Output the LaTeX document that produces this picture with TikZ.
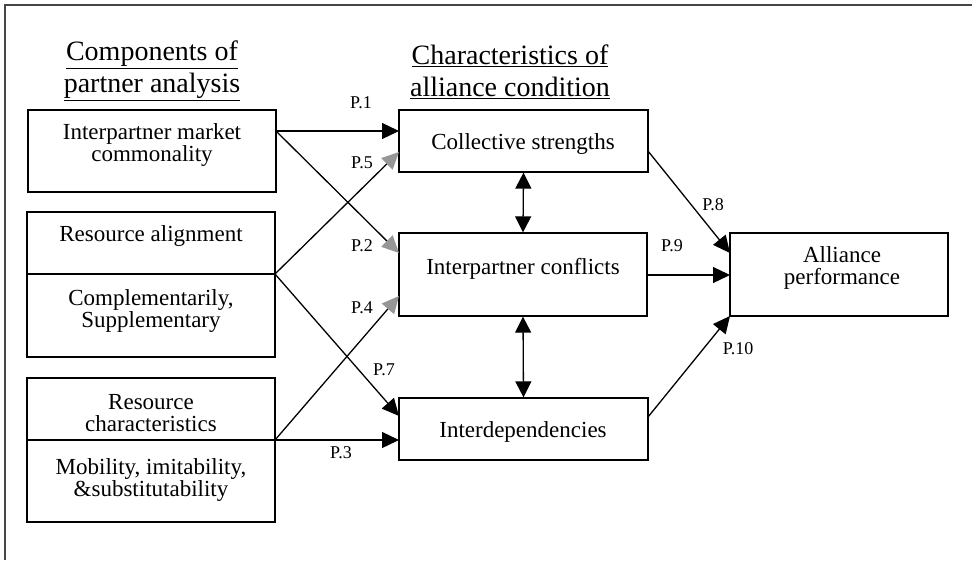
\documentclass[tikz,border=0pt]{standalone}
\usepackage{fontspec}
\setmainfont{Liberation Serif}
\usetikzlibrary{arrows.meta}
\definecolor{tipgray}{RGB}{150,150,150}
\definecolor{framegray}{RGB}{70,70,70}
\begin{document}
\begin{tikzpicture}[x=1pt,y=-1pt,
  box/.style={draw,line width=1.3pt,inner sep=0pt},
  txt/.style={align=center,inner sep=0pt,font=\fontsize{23}{21.5}\selectfont},
  head/.style={align=center,inner sep=0pt,font=\fontsize{28}{32}\selectfont},
  plab/.style={inner sep=0pt,font=\fontsize{18}{18}\selectfont},
  conn/.style={line width=1.3pt,-{Triangle[length=17pt,width=16pt]}},
  conng/.style={line width=1.3pt,-{Triangle[length=17pt,width=16pt,color=tipgray]}},
  biconn/.style={line width=1.3pt,{Triangle[length=16pt,width=16pt]}-{Triangle[length=16pt,width=16pt]}}]
\useasboundingbox (0,0) rectangle (972,560);
% frame (top and left only)
\draw[line width=2pt,framegray] (972,5) -- (5,5) -- (5,560);

% headings
\node[head] (h1) at (152,71) {\underline{Components of}\\\underline{partner analysis}};
\node[head] (h2) at (510,72) {\underline{Characteristics of}\\\underline{alliance condition}};

% left boxes
\draw[box] (28,110) rectangle (276,192);
\node[txt] (t1) at (152,145) {Interpartner market\\commonality};
\draw[box] (27,212) rectangle (275,357);
\draw[line width=1.3pt] (27,274) -- (275,274);
\node[txt] (t2a) at (151,236) {Resource alignment};
\node[txt] (t2b) at (151,311) {Complementarily,\\Supplementary};
\draw[box] (27,378) rectangle (275,522);
\draw[line width=1.3pt] (27,440) -- (275,440);
\node[txt] (t3a) at (151,413) {Resource\\characteristics};
\node[txt] (t3b) at (151,480) {Mobility, imitability,\\\&substitutability};

% middle boxes
\node[box,minimum width=249pt,minimum height=62pt] (cs) at (523.5,141) {};
\node[txt] at (523,144) {Collective strengths};
\node[box,minimum width=248pt,minimum height=83pt] (ic) at (523,274.5) {};
\node[txt] at (523,269) {Interpartner conflicts};
\node[box,minimum width=249pt,minimum height=62pt] (id) at (523.5,429) {};
\node[txt] at (523,432) {Interdependencies};

% right box
\node[box,minimum width=218pt,minimum height=83pt] (ap) at (839,274.5) {};
\node[txt] at (842,268) {Alliance\\performance};

% connection points
\coordinate (o1) at (276,131);
\coordinate (o2) at (275,274);
\coordinate (o3) at (275,440);
\coordinate (csin1) at (399,131);
\coordinate (csin2) at (399,152);
\coordinate (icin1) at (399,253);
\coordinate (icin2) at (399,296);
\coordinate (idin1) at (399,416);
\coordinate (idin2) at (399,440);
\coordinate (csout) at (648,151);
\coordinate (icout) at (647,275);
\coordinate (idout) at (648,417);
\coordinate (apin1) at (730,253);
\coordinate (apin2) at (730,275);
\coordinate (apin3) at (730,316);

\draw[conn] (o1) -- (csin1);
\draw[conng] (o1) -- (icin1);
\draw[conng] (o2) -- (csin2);
\draw[conn] (o2) -- (idin1);
\draw[conng] (o3) -- (icin2);
\draw[conn] (o3) -- (idin2);
\draw[conn] (csout) -- (apin1);
\draw[conn] (icout) -- (apin2);
\draw[conn] (idout) -- (apin3);
\draw[biconn] (cs.south) -- (ic.north);
\draw[biconn] (ic.south) -- (id.north);

% labels
\node[plab] at (361,103) {P.1};
\node[plab] at (362,163) {P.5};
\node[plab] at (362,246) {P.2};
\node[plab] at (362,308) {P.4};
\node[plab] at (384,370) {P.7};
\node[plab] at (341,453) {P.3};
\node[plab] at (713,205) {P.8};
\node[plab] at (672,246) {P.9};
\node[plab] at (738,349) {P.10};
\end{tikzpicture}
\end{document}
